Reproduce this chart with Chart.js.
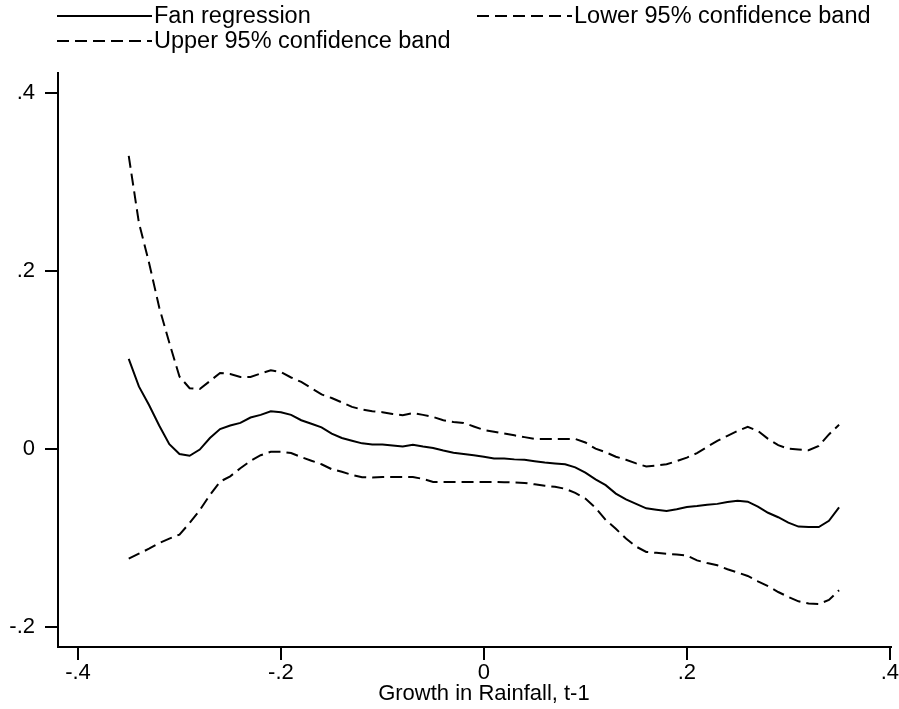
<!DOCTYPE html>
<html>
<head>
<meta charset="utf-8">
<script src="https://cdn.jsdelivr.net/npm/chart.js@4"></script>
<style>
  html, body { margin: 0; padding: 0; background: #fff; }
  #wrap { position: relative; width: 899px; height: 709px; }
</style>
</head>
<body>
<div id="wrap"><canvas id="graphique"></canvas></div>
<script>
// growth in rainfall (t-1), grid of the kernel regression
const rainfall = [
  -0.35, -0.34, -0.33, -0.32, -0.31, -0.30, -0.29, -0.28, -0.27, -0.26,
  -0.25, -0.24, -0.23, -0.22, -0.21, -0.20, -0.19, -0.18, -0.17, -0.16,
  -0.15, -0.14, -0.13, -0.12, -0.11, -0.10, -0.09, -0.08, -0.07, -0.06,
  -0.05, -0.04, -0.03, -0.02, -0.01, 0.00, 0.01, 0.02, 0.03, 0.04,
  0.05, 0.06, 0.07, 0.08, 0.09, 0.10, 0.11, 0.12, 0.13, 0.14,
  0.15, 0.16, 0.17, 0.18, 0.19, 0.20, 0.21, 0.22, 0.23, 0.24,
  0.25, 0.26, 0.27, 0.28, 0.29, 0.30, 0.31, 0.32, 0.33, 0.34, 0.35
];
const fanRegression = [
  0.101, 0.070, 0.049, 0.026, 0.005, -0.006, -0.008, -0.001, 0.012, 0.022,
  0.026, 0.029, 0.035, 0.038, 0.042, 0.041, 0.038, 0.032, 0.028, 0.024,
  0.017, 0.012, 0.009, 0.006, 0.0048, 0.0046, 0.0035, 0.0025, 0.0045, 0.0025,
  0.0008, -0.002, -0.0045, -0.006, -0.0073, -0.009, -0.011, -0.011, -0.012, -0.0125,
  -0.014, -0.0155, -0.0165, -0.0174, -0.021, -0.027, -0.0345, -0.041, -0.0505, -0.057,
  -0.062, -0.067, -0.0685, -0.070, -0.068, -0.0655, -0.0645, -0.063, -0.062, -0.060,
  -0.0585, -0.0595, -0.065, -0.072, -0.077, -0.083, -0.0875, -0.088, -0.088, -0.081, -0.066
];
const upperBand = [
  0.329, 0.254, 0.209, 0.159, 0.119, 0.081, 0.068, 0.067, 0.076, 0.085,
  0.084, 0.0806, 0.0806, 0.0845, 0.088, 0.086, 0.080, 0.075, 0.068, 0.061,
  0.057, 0.052, 0.047, 0.044, 0.042, 0.041, 0.039, 0.0375, 0.040, 0.038,
  0.0357, 0.032, 0.030, 0.029, 0.025, 0.021, 0.019, 0.017, 0.015, 0.013,
  0.011, 0.011, 0.011, 0.011, 0.011, 0.007, 0.000, -0.004, -0.009, -0.0125,
  -0.0165, -0.020, -0.019, -0.0175, -0.014, -0.010, -0.005, 0.002, 0.0088, 0.0145,
  0.020, 0.0245, 0.020, 0.011, 0.004, 0.000, -0.001, -0.0018, 0.003, 0.016, 0.027
];
const lowerBand = [
  -0.1236, -0.118, -0.1124, -0.106, -0.101, -0.0965, -0.0835, -0.069, -0.052, -0.037,
  -0.031, -0.022, -0.0138, -0.0073, -0.0035, -0.0035, -0.0048, -0.0095, -0.0135, -0.0175,
  -0.023, -0.026, -0.0295, -0.032, -0.0325, -0.0318, -0.0318, -0.0318, -0.0318, -0.034,
  -0.0374, -0.0374, -0.0374, -0.0374, -0.0374, -0.0374, -0.0374, -0.0376, -0.038, -0.0385,
  -0.040, -0.0416, -0.0428, -0.045, -0.0497, -0.056, -0.0665, -0.080, -0.090, -0.101,
  -0.110, -0.116, -0.117, -0.118, -0.119, -0.120, -0.1255, -0.1285, -0.131, -0.1355,
  -0.139, -0.143, -0.149, -0.1545, -0.161, -0.1665, -0.1715, -0.174, -0.1745, -0.170, -0.159
];
const seriesLabels = ["Fan regression", "Lower 95% confidence band", "Upper 95% confidence band"];
const xTicks = [-0.4, -0.2, 0, 0.2, 0.4];
const xTickLabels = ["-.4", "-.2", "0", ".2", ".4"];
const yTicks = [-0.2, 0, 0.2, 0.4];
const yTickLabels = ["-.2", "0", ".2", ".4"];
const xTitle = "Growth in Rainfall, t-1";

const police = "'Liberation Sans', Arial, Helvetica, sans-serif";

const toPoints = (ys) => rainfall.map((x, i) => ({ x: x, y: ys[i] }));

// Legende facon Stata : deux colonnes, echantillon de trait long
// + titre de l'axe x centre sur l'etendue des graduations
const legendeStata = {
  id: "legendeStata",
  afterDraw(chart) {
    const ctx = chart.ctx;
    const places = [
      { ds: 0, x: 57, y: 16 },
      { ds: 1, x: 477, y: 16 },
      { ds: 2, x: 57, y: 41 }
    ];
    ctx.save();
    ctx.font = "23.5px " + police;
    ctx.textBaseline = "middle";
    ctx.fillStyle = "#000";
    for (const p of places) {
      const ds = chart.data.datasets[p.ds];
      ctx.strokeStyle = ds.borderColor;
      ctx.lineWidth = ds.borderWidth;
      ctx.setLineDash(ds.borderDash || []);
      ctx.beginPath();
      ctx.moveTo(p.x, p.y);
      ctx.lineTo(p.x + 95, p.y);
      ctx.stroke();
      ctx.setLineDash([]);
      ctx.fillText(ds.label, p.x + 97, p.y + 1);
    }
    // titre de l'axe x
    const sx = chart.scales.x;
    const cx = (sx.getPixelForValue(xTicks[0]) + sx.getPixelForValue(xTicks[xTicks.length - 1])) / 2;
    ctx.font = "22px " + police;
    ctx.textAlign = "center";
    ctx.fillText(xTitle, cx, 694);
    ctx.restore();
  }
};

const axeX = {
  type: "linear",
  min: -0.4197,
  max: 0.401,
  afterBuildTicks: (scale) => { scale.ticks = xTicks.map(v => ({ value: v })); },
  afterFit: (scale) => { scale.height = 62; },
  border: { display: true, color: "#000", width: 2 },
  grid: { drawOnChartArea: false, drawTicks: true, tickLength: 13, tickWidth: 2, tickColor: "#000", lineWidth: 2, color: "#000" },
  ticks: {
    color: "#000",
    padding: 0,
    maxRotation: 0,
    font: { family: police, size: 22 },
    callback: (v) => xTickLabels[xTicks.findIndex(t => Math.abs(t - v) < 1e-9)]
  },
  title: { display: false }
};

const axeY = {
  type: "linear",
  min: -0.2228,
  max: 0.4221,
  afterBuildTicks: (scale) => { scale.ticks = yTicks.map(v => ({ value: v })); },
  afterFit: (scale) => { scale.width = 58; },
  border: { display: true, color: "#000", width: 2 },
  grid: { drawOnChartArea: false, drawTicks: true, tickLength: 13, tickWidth: 2, tickColor: "#000", lineWidth: 2, color: "#000" },
  ticks: {
    color: "#000",
    padding: 10,
    font: { family: police, size: 22 },
    callback: (v) => yTickLabels[yTicks.findIndex(t => Math.abs(t - v) < 1e-9)]
  }
};

const config = {
  type: "line",
  data: {
    datasets: [
      { label: seriesLabels[0], data: toPoints(fanRegression), borderColor: "#000", borderWidth: 2, borderDash: [] },
      { label: seriesLabels[1], data: toPoints(lowerBand), borderColor: "#000", borderWidth: 2, borderDash: [12, 6] },
      { label: seriesLabels[2], data: toPoints(upperBand), borderColor: "#000", borderWidth: 2, borderDash: [12, 6] }
    ]
  },
  options: {
    responsive: true,
    maintainAspectRatio: false,
    devicePixelRatio: 1,
    animation: false,
    layout: { padding: { top: 73, right: 8, left: 0, bottom: 0 } },
    elements: { point: { radius: 0 }, line: { tension: 0, fill: false } },
    plugins: { legend: { display: false }, tooltip: { enabled: false } },
    scales: { x: axeX, y: axeY }
  },
  plugins: [legendeStata]
};

new Chart(document.querySelector("#graphique"), config);
</script>
</body>
</html>
